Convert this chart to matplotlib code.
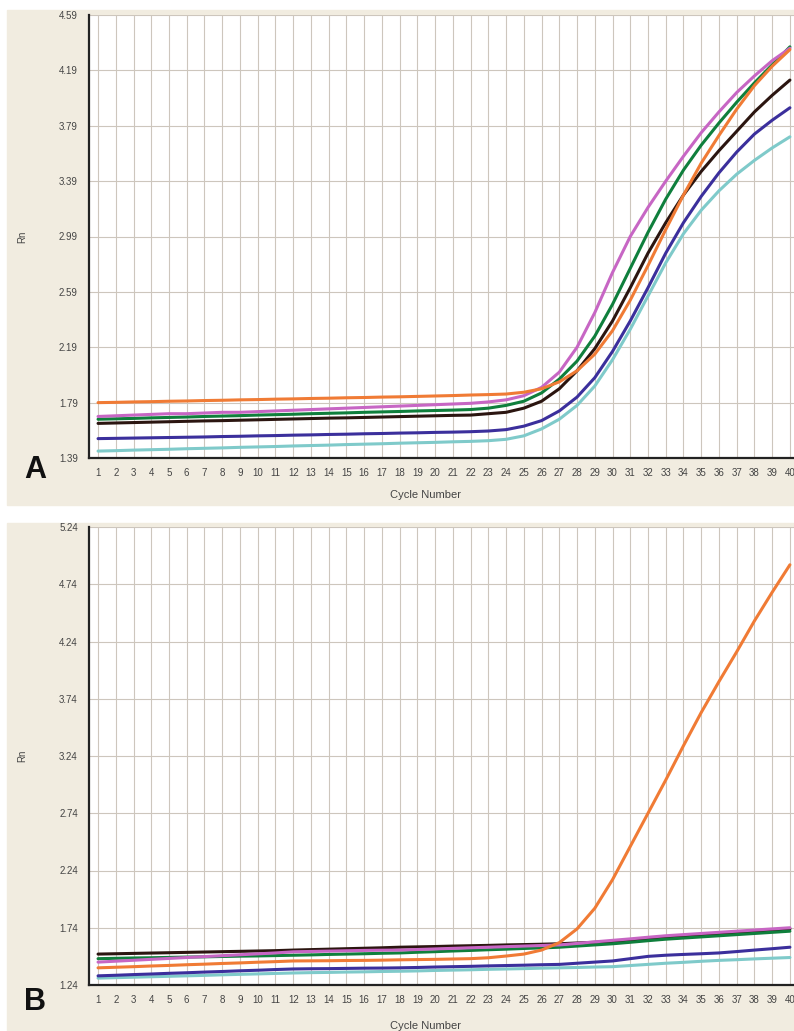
import matplotlib
matplotlib.use("Agg")
import matplotlib.pyplot as plt
from matplotlib.patches import Rectangle

plt.rcParams['font.family'] = ['Liberation Sans', 'DejaVu Sans']

cycles = list(range(1, 41))

# panel A - amplification curves
a_pink = [1.69, 1.695, 1.70, 1.705, 1.71, 1.71, 1.715, 1.72, 1.72, 1.725, 1.73, 1.735, 1.74, 1.745,
          1.75, 1.755, 1.76, 1.765, 1.77, 1.775, 1.78, 1.785, 1.795, 1.81, 1.84, 1.90, 2.01, 2.19,
          2.44, 2.73, 2.99, 3.20, 3.39, 3.57, 3.74, 3.89, 4.03, 4.15, 4.26, 4.35]
a_green = [1.67, 1.673, 1.676, 1.68, 1.683, 1.686, 1.69, 1.693, 1.696, 1.70, 1.703, 1.706, 1.71, 1.713,
           1.716, 1.72, 1.723, 1.726, 1.73, 1.733, 1.736, 1.74, 1.75, 1.77, 1.80, 1.86, 1.96, 2.09,
           2.27, 2.50, 2.76, 3.02, 3.26, 3.47, 3.65, 3.81, 3.96, 4.10, 4.23, 4.36]
a_black = [1.64, 1.643, 1.646, 1.649, 1.652, 1.655, 1.658, 1.66, 1.663, 1.666, 1.669, 1.672, 1.675, 1.678,
           1.68, 1.683, 1.686, 1.689, 1.692, 1.695, 1.698, 1.70, 1.71, 1.72, 1.75, 1.80, 1.89, 2.02,
           2.18, 2.38, 2.62, 2.87, 3.09, 3.29, 3.46, 3.61, 3.75, 3.89, 4.01, 4.12]
a_orange = [1.79, 1.792, 1.795, 1.797, 1.80, 1.802, 1.805, 1.807, 1.81, 1.812, 1.815, 1.817, 1.82, 1.822,
            1.825, 1.827, 1.83, 1.832, 1.835, 1.838, 1.841, 1.845, 1.848, 1.852, 1.865, 1.89, 1.94, 2.02,
            2.14, 2.31, 2.53, 2.78, 3.04, 3.29, 3.52, 3.72, 3.91, 4.08, 4.22, 4.34]
a_blue = [1.53, 1.532, 1.534, 1.536, 1.538, 1.54, 1.542, 1.545, 1.547, 1.55, 1.552, 1.555, 1.557, 1.56,
          1.562, 1.565, 1.567, 1.57, 1.572, 1.575, 1.577, 1.58, 1.585, 1.595, 1.62, 1.66, 1.73, 1.83,
          1.97, 2.16, 2.38, 2.62, 2.87, 3.09, 3.28, 3.45, 3.60, 3.73, 3.83, 3.92]
a_cyan = [1.44, 1.443, 1.447, 1.45, 1.453, 1.457, 1.46, 1.463, 1.467, 1.47, 1.473, 1.477, 1.48, 1.483,
          1.487, 1.49, 1.493, 1.497, 1.50, 1.503, 1.507, 1.51, 1.515, 1.525, 1.55, 1.60, 1.67, 1.77,
          1.91, 2.10, 2.32, 2.56, 2.80, 3.01, 3.18, 3.32, 3.44, 3.54, 3.63, 3.71]

# panel B
b_black = [1.51, 1.513, 1.516, 1.519, 1.522, 1.525, 1.528, 1.531, 1.534, 1.537, 1.54, 1.545, 1.549, 1.553,
           1.557, 1.561, 1.565, 1.57, 1.573, 1.576, 1.58, 1.583, 1.586, 1.59, 1.593, 1.596, 1.60, 1.607,
           1.613, 1.62, 1.633, 1.647, 1.66, 1.67, 1.68, 1.69, 1.70, 1.71, 1.72, 1.73]
b_pink = [1.44, 1.448, 1.456, 1.464, 1.472, 1.48, 1.488, 1.496, 1.504, 1.512, 1.52, 1.53, 1.533, 1.536,
          1.539, 1.542, 1.544, 1.545, 1.55, 1.555, 1.56, 1.565, 1.57, 1.575, 1.58, 1.585, 1.59, 1.603,
          1.617, 1.63, 1.643, 1.657, 1.67, 1.68, 1.69, 1.70, 1.71, 1.72, 1.73, 1.74]
b_green = [1.47, 1.473, 1.476, 1.478, 1.481, 1.484, 1.486, 1.489, 1.492, 1.494, 1.497, 1.50, 1.503, 1.507,
           1.51, 1.513, 1.517, 1.52, 1.526, 1.531, 1.537, 1.542, 1.548, 1.553, 1.559, 1.564, 1.57, 1.58,
           1.59, 1.60, 1.613, 1.627, 1.64, 1.65, 1.66, 1.67, 1.68, 1.69, 1.70, 1.71]
b_orange = [1.39, 1.395, 1.40, 1.406, 1.411, 1.417, 1.422, 1.428, 1.433, 1.439, 1.444, 1.45, 1.451, 1.452,
            1.454, 1.455, 1.457, 1.46, 1.462, 1.464, 1.467, 1.47, 1.478, 1.493, 1.51, 1.545, 1.61, 1.73,
            1.91, 2.16, 2.45, 2.74, 3.03, 3.33, 3.62, 3.89, 4.15, 4.42, 4.67, 4.91]
b_blue = [1.32, 1.325, 1.331, 1.336, 1.342, 1.347, 1.353, 1.358, 1.364, 1.369, 1.375, 1.38, 1.382, 1.383,
          1.385, 1.387, 1.388, 1.39, 1.393, 1.397, 1.40, 1.403, 1.407, 1.41, 1.413, 1.417, 1.42, 1.43,
          1.44, 1.45, 1.47, 1.49, 1.50, 1.507, 1.513, 1.52, 1.532, 1.545, 1.557, 1.57]
b_cyan = [1.30, 1.304, 1.308, 1.312, 1.316, 1.32, 1.324, 1.329, 1.333, 1.337, 1.341, 1.345, 1.348, 1.35,
          1.353, 1.355, 1.358, 1.36, 1.363, 1.367, 1.37, 1.373, 1.377, 1.38, 1.383, 1.387, 1.39, 1.393,
          1.397, 1.40, 1.41, 1.42, 1.43, 1.438, 1.447, 1.455, 1.461, 1.468, 1.474, 1.48]

a_yticks = [1.39, 1.79, 2.19, 2.59, 2.99, 3.39, 3.79, 4.19, 4.59]
b_yticks = [1.24, 1.74, 2.24, 2.74, 3.24, 3.74, 4.24, 4.74, 5.24]

colors = {'cyan': '#7fcaca', 'blue': '#3b2f9c', 'black': '#2b1510',
          'green': '#0f7f3c', 'pink': '#c766c4', 'orange': '#f07b35'}
beige = '#f1ece0'
grid_col = '#cdc6bd'

W, H = 794, 1031
fig = plt.figure(figsize=(W / 100, H / 100), dpi=100)

# beige panel backgrounds, behind the axes
fig.patches.append(Rectangle((7 / W, 1 - 505 / H), 787 / W, 495 / H,
                             transform=fig.transFigure, color=beige, zorder=-5))
fig.patches.append(Rectangle((7 / W, 0), 787 / W, 1 - 523 / H,
                             transform=fig.transFigure, color=beige, zorder=-5))


def panel(top, bottom, series, yticks, letter, letter_y, xlabel_y):
    ax = fig.add_axes([89 / W, 1 - bottom / H, 705 / W, (bottom - top) / H])
    ax.set_facecolor('white')
    ax.set_xlim(0.49, 40.23)
    ax.set_ylim(yticks[0], yticks[-1])
    ax.set_xticks(cycles)
    ax.set_yticks(yticks)
    ax.set_yticklabels([f"{t:.2f}" for t in yticks])
    ax.grid(True, color=grid_col, lw=0.8)
    ax.set_axisbelow(True)
    ax.tick_params(length=0, labelsize=7, colors='#444444', pad=8)
    ax.tick_params(axis='x', pad=7)
    for s in ['top', 'right']:
        ax.spines[s].set_visible(False)
    for s in ['left', 'bottom']:
        ax.spines[s].set_linewidth(1.6)
        ax.spines[s].set_color('#222222')
    for name, vals in series:
        ax.plot(cycles, vals, color=colors[name], lw=2.2, solid_capstyle='round')
    mid = (top + bottom) / 2
    fig.text(22 / W, 1 - mid / H, 'Rn', rotation=90, ha='center', va='center',
             fontsize=7, color='#444444')
    fig.text(425 / W, 1 - xlabel_y / H, 'Cycle Number', ha='center', va='center',
             fontsize=8, color='#444444')
    fig.text(35 / W, 1 - letter_y / H, letter, ha='center', va='center',
             fontsize=22, fontweight='bold', color='#111111')
    return ax


panel(15, 458, [('cyan', a_cyan), ('blue', a_blue), ('black', a_black),
                ('green', a_green), ('pink', a_pink), ('orange', a_orange)],
      a_yticks, 'A', 470, 495)
panel(527, 985, [('cyan', b_cyan), ('blue', b_blue), ('black', b_black),
                 ('green', b_green), ('pink', b_pink), ('orange', b_orange)],
      b_yticks, 'B', 1002, 1026)

fig.savefig('out.png', dpi=100)
